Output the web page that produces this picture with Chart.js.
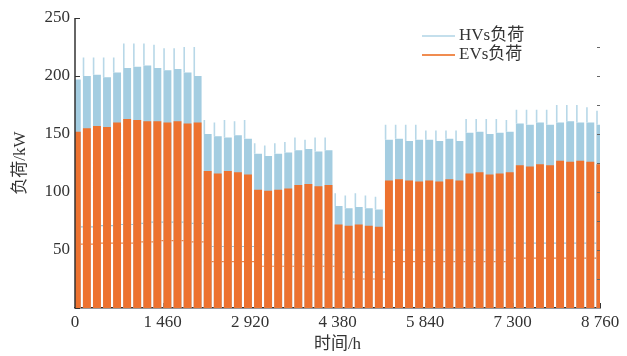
<!DOCTYPE html>
<html><head><meta charset="utf-8">
<script src="https://cdn.jsdelivr.net/npm/chart.js@4.4.0/dist/chart.umd.min.js"></script>
<style>html,body{margin:0;padding:0;background:#fff;}canvas{display:block;}</style>
</head><body>
<canvas id="c" width="627" height="356"></canvas>
<script>
// ---- tick labels ----
const xTicks = [0, 1460, 2920, 4380, 5840, 7300, 8760];
const xTickLabels = ['0', '1 460', '2 920', '4 380', '5 840', '7 300', '8 760'];
const yTicks = [0, 50, 100, 150, 200, 250];
const yTickLabels = ['', '50', '100', '150', '200', '250'];
const seriesNames = ['HVs负荷', 'EVs负荷'];

// ---- weekly blocks (53 blocks over the year), values in kW ----
const hvPeak = [205, 216, 216, 216, 216, 228, 228, 228, 227, 224, 224, 225, 225,
                162, 160, 162, 161, 162,
                142, 140, 142, 143,
                147, 145, 147, 147,
                99, 97, 99, 97, 96,
                158, 158, 158, 158,
                153, 153, 153, 153,
                163, 163, 163, 163, 162,
                171, 171, 171, 171,
                175, 175, 175,
                173, 170];
const hvTop = [197, 200, 201, 199, 203, 207, 208, 209, 207, 205, 206, 203, 200,
               150, 148, 147, 149, 146,
               133, 131, 133, 134,
               136, 137, 135, 136,
               88, 86, 87, 86, 85,
               145, 146, 144, 145,
               145, 144, 146, 144,
               151, 152, 150, 151, 152,
               159, 158, 160, 158,
               160, 161, 160,
               160, 158];
const evTop = [152, 155, 157, 156, 160, 163, 162, 161, 161, 160, 161, 159, 160,
               118, 116, 118, 117, 115,
               102, 101, 102, 103,
               106, 107, 105, 106,
               72, 71, 72, 71, 70,
               110, 111, 110, 109,
               110, 109, 111, 110,
               116, 117, 115, 116, 117,
               123, 122, 124, 123,
               127, 126, 127,
               126, 124];
const hvWeekend = [70, 70, 71, 71, 72, 72, 73, 74, 74, 74, 74, 73, 73,
                   53, 53, 53, 53, 53,
                   46, 46, 46, 46,
                   46, 46, 46, 46,
                   31, 31, 31, 31, 31,
                   50, 50, 50, 50,
                   50, 50, 50, 50,
                   50, 50, 50, 50, 56,
                   56, 56, 56, 56,
                   56, 56, 56,
                   56, 56];
const evWeekend = [55, 55, 56, 56, 56, 56, 57, 57, 58, 58, 58, 57, 57,
                   40, 40, 40, 40, 40,
                   36, 36, 36, 36,
                   36, 36, 36, 36,
                   25, 25, 25, 25, 25,
                   40, 40, 40, 40,
                   40, 40, 40, 40,
                   40, 40, 40, 40, 43,
                   43, 43, 43, 43,
                   43, 43, 43,
                   43, 43];

// ---- build the point tables from the arrays ----
const WEEK_H = 168, WORK_H = 132, OFFSET_H = -36, SPIKE_AT = 10;
const hvPts = [], evPts = [], hvSpikePts = [], hvWkPts = [], evWkPts = [];
hvPeak.forEach((_, b) => {
  const h0 = b * WEEK_H + OFFSET_H, h1 = h0 + WORK_H, h2 = h0 + WEEK_H;
  hvPts.push({x: h0, y: 0}, {x: h0, y: hvTop[b]}, {x: h1, y: hvTop[b]}, {x: h1, y: 0});
  hvSpikePts.push({x: h0 + SPIKE_AT, y: hvTop[b]}, {x: h0 + SPIKE_AT, y: hvPeak[b]},
                  {x: h0 + SPIKE_AT, y: null});
  evPts.push({x: h0, y: 0}, {x: h0, y: evTop[b]}, {x: h1, y: evTop[b]}, {x: h1, y: 0});
  hvWkPts.push({x: h1, y: hvWeekend[b]}, {x: h2, y: hvWeekend[b]}, {x: h2, y: null});
  evWkPts.push({x: h1, y: evWeekend[b]}, {x: h2, y: evWeekend[b]}, {x: h2, y: null});
});

const HV_COLOR = 'rgb(164,205,225)';
const HV_SPIKE = 'rgb(184,216,232)';
const EV_COLOR = 'rgb(237,114,47)';
const HV_LEG = 'rgb(196,223,236)';
const EV_LEG = 'rgb(240,140,80)';
const TXT = '#333333';
const FONT = "'Liberation Serif', 'Noto Sans CJK SC', serif";

const axisPlugin = {
  id: 'axisExtras',
  beforeDatasetsDraw(chart) {
    const {ctx, chartArea: a, scales: {x, y}} = chart;
    ctx.save();
    ctx.strokeStyle = TXT; ctx.lineWidth = 1;
    yTicks.forEach(v => {
      const py = Math.round(y.getPixelForValue(v)) + 0.5;
      ctx.beginPath(); ctx.moveTo(a.left, py); ctx.lineTo(a.left + 5, py); ctx.stroke();
    });
    xTicks.forEach(v => {
      const px = Math.round(x.getPixelForValue(v)) + 0.5;
      ctx.beginPath(); ctx.moveTo(px, a.bottom); ctx.lineTo(px, a.bottom - 5); ctx.stroke();
    });
    ctx.restore();
  },
  afterDatasetsDraw(chart) {
    const {ctx, chartArea: a, scales: {y}} = chart;
    ctx.save();
    ctx.strokeStyle = TXT; ctx.lineWidth = 1.5;
    ctx.beginPath(); ctx.moveTo(a.left, a.top); ctx.lineTo(a.left, a.bottom); ctx.stroke();
    ctx.strokeStyle = '#666'; ctx.lineWidth = 1;
    for (let v = 25; v < 250; v += 25) {
      const py = Math.round(y.getPixelForValue(v)) + 0.5;
      ctx.beginPath(); ctx.moveTo(a.right - 3, py); ctx.lineTo(a.right, py); ctx.stroke();
    }
    ctx.restore();
  },
  afterDraw(chart) {
    const ctx = chart.ctx;
    ctx.save();
    const rows = [[seriesNames[0], HV_LEG, 36], [seriesNames[1], EV_LEG, 55]];
    ctx.font = "17px " + FONT;
    ctx.textBaseline = 'middle';
    rows.forEach(([t, c, yy]) => {
      ctx.strokeStyle = c; ctx.lineWidth = 2;
      ctx.beginPath(); ctx.moveTo(422, yy); ctx.lineTo(455, yy); ctx.stroke();
      ctx.fillStyle = TXT; ctx.fillText(t, 459, yy);
    });
    ctx.restore();
  }
};

new Chart(document.getElementById('c'), {
  type: 'line',
  data: {
    datasets: [
      {label: seriesNames[1], data: evPts, fill: 'origin', backgroundColor: EV_COLOR,
       borderWidth: 0, pointRadius: 0, order: 1},
      {label: 'hvs', data: hvSpikePts, fill: false, borderColor: HV_SPIKE,
       borderWidth: 1.6, pointRadius: 0, spanGaps: false, order: 2},
      {label: seriesNames[0], data: hvPts, fill: 'origin', backgroundColor: HV_COLOR,
       borderWidth: 0, pointRadius: 0, order: 3},
      {label: 'hvw', data: hvWkPts, fill: false, borderColor: 'rgb(150,195,218)',
       borderWidth: 1.2, pointRadius: 0, spanGaps: false, order: 4},
      {label: 'evw', data: evWkPts, fill: false, borderColor: 'rgb(238,130,70)',
       borderWidth: 1.2, pointRadius: 0, spanGaps: false, order: 5}
    ]
  },
  options: {
    responsive: false,
    animation: false,
    devicePixelRatio: 1,
    layout: {padding: {top: 18, right: 27, left: 0, bottom: 0}},
    plugins: {legend: {display: false}, tooltip: {enabled: false}},
    elements: {line: {tension: 0}},
    scales: {
      x: {
        type: 'linear', min: 0, max: 8760,
        afterBuildTicks: s => { s.ticks = xTicks.map(v => ({value: v})); },
        afterFit: s => { s.height = 48; },
        grid: {display: false, drawTicks: false},
        border: {display: true, color: TXT, width: 1.5},
        ticks: {font: {family: FONT, size: 17}, color: TXT, padding: 4, maxRotation: 0,
                callback: (v, i) => xTickLabels[i]},
        title: {display: true, text: '时间/h', font: {family: FONT, size: 17}, color: TXT,
                padding: {top: 0, bottom: 1}}
      },
      y: {
        type: 'linear', min: 0, max: 250,
        afterBuildTicks: s => { s.ticks = yTicks.map(v => ({value: v})); },
        afterFit: s => { s.width = 75; },
        grid: {display: false, drawTicks: false},
        border: {display: false},
        ticks: {font: {family: FONT, size: 17}, color: TXT, padding: 5,
                callback: (v, i) => yTickLabels[i]},
        title: {display: true, text: '负荷/kW', font: {family: FONT, size: 17}, color: TXT,
                padding: {top: 10, bottom: 0}}
      }
    }
  },
  plugins: [axisPlugin]
});
</script>
</body></html>
